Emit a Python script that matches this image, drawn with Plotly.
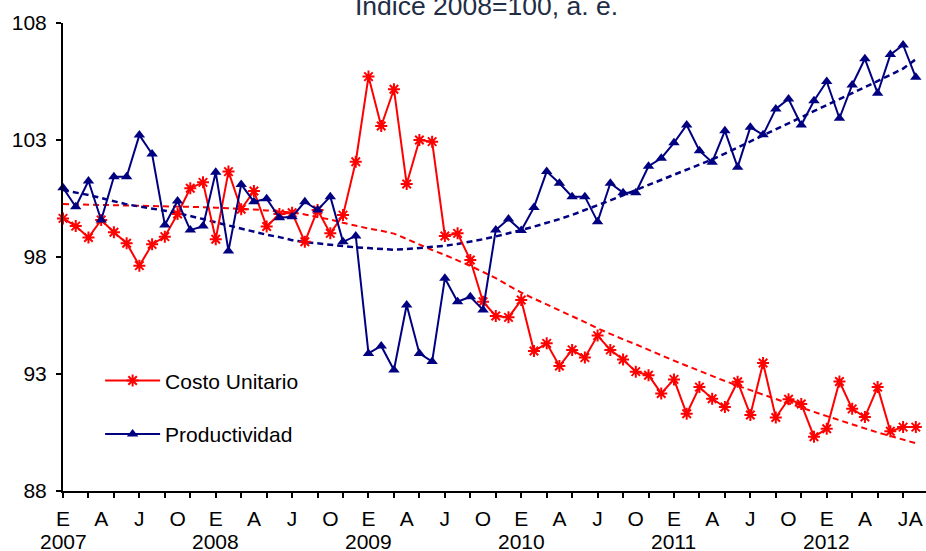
import plotly.graph_objects as go

# Meses: enero 2007 (0) ... agosto 2012 (67)
meses = list(range(68))

costo_unitario = [
    99.65, 99.32, 98.83, 99.58, 99.06, 98.59, 97.63, 98.54, 98.87, 99.84,
    100.94, 101.19, 98.76, 101.65, 100.04, 100.82, 99.30, 99.84, 99.89, 98.65,
    100.01, 99.01, 99.79, 102.07, 105.71, 103.60, 105.17, 101.12, 103.00, 102.93,
    98.90, 99.01, 97.87, 96.09, 95.48, 95.42, 96.16, 93.98, 94.31, 93.34,
    94.03, 93.70, 94.64, 94.03, 93.62, 93.10, 92.95, 92.17, 92.77, 91.30,
    92.44, 91.94, 91.59, 92.67, 91.25, 93.47, 91.14, 91.92, 91.72, 90.32,
    90.66, 92.68, 91.51, 91.16, 92.44, 90.55, 90.73, 90.73,
]

productividad = [
    100.96, 100.15, 101.25, 99.58, 101.43, 101.43, 103.21, 102.40, 99.37, 100.39,
    99.15, 99.32, 101.62, 98.26, 101.10, 100.36, 100.49, 99.68, 99.72, 100.36,
    100.01, 100.58, 98.65, 98.90, 93.88, 94.20, 93.17, 95.95, 93.88, 93.53,
    97.09, 96.09, 96.30, 95.74, 99.15, 99.62, 99.13, 100.12, 101.65, 101.15,
    100.58, 100.58, 99.51, 101.15, 100.75, 100.75, 101.88, 102.22, 102.88, 103.64,
    102.54, 102.05, 103.39, 101.84, 103.55, 103.22, 104.33, 104.75, 103.64, 104.68,
    105.50, 103.93, 105.35, 106.47, 105.00, 106.65, 107.06, 105.68,
]

tendencia_costo = [
    100.26, 100.25, 100.24, 100.23, 100.22, 100.21, 100.20, 100.18, 100.17, 100.16,
    100.15, 100.13, 100.11, 100.09, 100.06, 100.03, 99.99, 99.95, 99.90, 99.82,
    99.72, 99.60, 99.46, 99.33, 99.22, 99.12, 99.00, 98.77, 98.52, 98.30,
    98.09, 97.87, 97.62, 97.36, 97.10, 96.78, 96.48, 96.22, 95.97, 95.74,
    95.50, 95.22, 94.95, 94.70, 94.48, 94.27, 94.05, 93.80, 93.57, 93.35,
    93.12, 92.90, 92.70, 92.50, 92.30, 92.12, 91.93, 91.75, 91.55, 91.38,
    91.20, 91.02, 90.85, 90.67, 90.50, 90.35, 90.20, 90.04,
]

tendencia_prod = [
    100.86, 100.76, 100.65, 100.52, 100.38, 100.25, 100.16, 100.08, 99.98, 99.88,
    99.76, 99.62, 99.48, 99.35, 99.20, 99.07, 98.95, 98.85, 98.72, 98.64,
    98.58, 98.50, 98.45, 98.41, 98.38, 98.35, 98.31, 98.34, 98.38, 98.42,
    98.48, 98.56, 98.65, 98.76, 98.88, 99.00, 99.15, 99.30, 99.45, 99.62,
    99.80, 100.00, 100.20, 100.42, 100.64, 100.86, 101.08, 101.30, 101.50, 101.72,
    101.95, 102.17, 102.42, 102.68, 102.95, 103.20, 103.45, 103.72, 104.00, 104.25,
    104.50, 104.75, 105.00, 105.25, 105.52, 105.78, 106.05, 106.45,
]

etiquetas_mes = ["E", "A", "J", "O", "E", "A", "J", "O", "E", "A", "J", "O",
                 "E", "A", "J", "O", "E", "A", "J", "O", "E", "A", "J", "A"]
pos_etiquetas = [0, 3, 6, 9, 12, 15, 18, 21, 24, 27, 30, 33,
                 36, 39, 42, 45, 48, 51, 54, 57, 60, 63, 66, 67]
anios = ["2007", "2008", "2009", "2010", "2011", "2012"]
pos_anios = [0, 12, 24, 36, 48, 60]
pos_ticks = [0, 2, 4, 6, 8, 10, 12, 14, 16, 18, 20, 22, 24, 26, 28, 30, 32,
             34, 36, 38, 40, 42, 44, 46, 48, 50, 52, 54, 56, 58, 60, 62, 64, 66]
ticks_y = [88, 93, 98, 103, 108]

FONT = "Liberation Sans, Arial, sans-serif"
ROJO = "#FF0000"
AZUL = "#000080"
XR = [0, 67.8]

fig = go.Figure()
fig.add_trace(go.Scatter(x=meses, y=tendencia_costo, mode="lines",
                         line=dict(color=ROJO, width=2, dash="6px,4px"),
                         showlegend=False, hoverinfo="skip"))
fig.add_trace(go.Scatter(x=meses, y=tendencia_prod, mode="lines",
                         line=dict(color=AZUL, width=2.5, dash="6px,4px"),
                         showlegend=False, hoverinfo="skip"))
fig.add_trace(go.Scatter(x=meses, y=costo_unitario, name="Costo Unitario",
                         mode="lines+markers", legendgroup="a",
                         line=dict(color=ROJO, width=2),
                         marker=dict(symbol="asterisk-open", size=10,
                                     color=ROJO, line=dict(color=ROJO, width=2)),
                         cliponaxis=False))
fig.add_trace(go.Scatter(x=meses, y=productividad, name="Productividad",
                         mode="lines+markers", legendgroup="b",
                         line=dict(color=AZUL, width=2),
                         marker=dict(symbol="triangle-up", size=10, color=AZUL),
                         cliponaxis=False))
fig.add_trace(go.Scatter(x=meses, y=productividad, xaxis="x2", mode="markers",
                         marker=dict(opacity=0), showlegend=False,
                         hoverinfo="skip"))

for anio, pos in zip(anios, pos_anios):
    fig.add_annotation(x=pos, xref="x", y=0, yref="paper", yanchor="top",
                       yshift=-37, text=anio, showarrow=False,
                       font=dict(family=FONT, size=21, color="black"))

fig.add_annotation(x=0.491, xref="paper", y=1.0, yref="paper",
                   xanchor="center", yanchor="bottom",
                   text="Índice 2008=100, a. e.", showarrow=False,
                   font=dict(family=FONT, size=26.5, color="#1F2D45"))

fig.update_layout(
    width=926, height=551,
    margin=dict(l=63, r=0, t=23, b=60, autoexpand=False),
    paper_bgcolor="white", plot_bgcolor="white",
    font=dict(family=FONT, size=21, color="black"),
    xaxis=dict(range=XR, tickmode="array", tickvals=pos_ticks,
               showticklabels=False, ticks="outside", ticklen=5,
               tickwidth=2, tickcolor="black", showline=True,
               linecolor="black", linewidth=2, showgrid=False,
               zeroline=False, fixedrange=True, automargin=False),
    xaxis2=dict(range=XR, overlaying="x", anchor="y", side="bottom",
                tickmode="array", tickvals=pos_etiquetas,
                ticktext=etiquetas_mes, ticks="", showline=False,
                showgrid=False, zeroline=False, tickangle=0,
                tickfont=dict(family=FONT, size=21, color="black"),
                ticklabelstandoff=13, automargin=False),
    yaxis=dict(range=[88, 108], tickmode="array", tickvals=ticks_y,
               ticks="outside", ticklen=5, tickwidth=2, tickcolor="black",
               showline=True, linecolor="black", linewidth=2,
               showgrid=False, zeroline=False, automargin=False,
               ticklabelstandoff=5,
               tickfont=dict(family=FONT, size=21, color="black")),
    legend=dict(x=0.043, y=0.279, xanchor="left", yanchor="top",
                bgcolor="rgba(0,0,0,0)", font=dict(family=FONT, size=21),
                tracegroupgap=23, itemwidth=55),
    showlegend=True,
)

# The page body keeps its default 8px margin; remove it so the 926x551
# figure fills the browser window exactly.
fig.write_html("out.html",
               config={"displayModeBar": False},
               post_script="document.body.style.margin='0';")
